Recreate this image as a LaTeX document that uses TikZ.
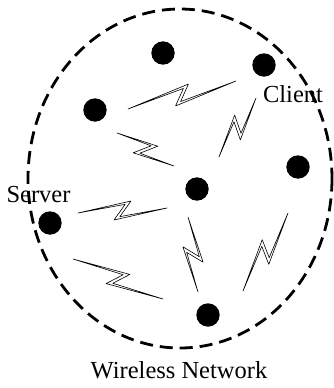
\documentclass[tikz,border=0pt]{standalone}
\usepackage{fontspec}
\setmainfont{Liberation Serif}
\usetikzlibrary{calc}

\tikzset{
  station/.style={circle, fill=black, inner sep=0pt, minimum size=23.4pt},
  zapline/.style={line width=0.6pt, line join=round},
  netlabel/.style={font=\fontsize{24.5}{29}\selectfont, anchor=base, inner sep=0pt},
}

\begin{document}
\begin{tikzpicture}[x=1pt,y=-1pt]
\useasboundingbox (0,0) rectangle (334,388);
% network boundary
\draw[line width=2.8pt, dash pattern=on 13pt off 7pt] (180,178.5) ellipse [x radius=152, y radius=169.5];
% stations
\node[station] (top) at (163,53) {};
\node[station] (client) at (264,65) {};
\node[station] (left) at (95,110) {};
\node[station] (right) at (298,167) {};
\node[station] (hub) at (197,189) {};
\node[station] (server) at (50,223) {};
\node[station] (bottom) at (208,315) {};
\node[netlabel] (clientlbl) at (293,102) {Client};
\node[netlabel] (serverlbl) at (38.5,202.5) {Server};
\node[netlabel] (netlbl) at (179,378) {Wireless Network};
% radio links
\foreach \ax/\ay/\bx/\by in {128/109/236/81, 117/133/174/166, 219/157/256/98,
    78/213/167/208, 73/259/163/299, 188/217/198/292, 243/291/288/213}{
  \coordinate (za) at (\ax,\ay);
  \coordinate (zb) at (\bx,\by);
  \draw[zapline] (za)
    -- ($(za)!.5!(zb)!9pt!(zb)!9pt!90:(zb)$)
    -- ($(za)!.5!(zb)!-3pt!(zb)!-6pt!90:(zb)$)
    -- (zb)
    -- ($(za)!.5!(zb)!-9pt!(zb)!-9pt!90:(zb)$)
    -- ($(za)!.5!(zb)!3pt!(zb)!6pt!90:(zb)$)
    -- cycle;
}
\end{tikzpicture}
\end{document}
